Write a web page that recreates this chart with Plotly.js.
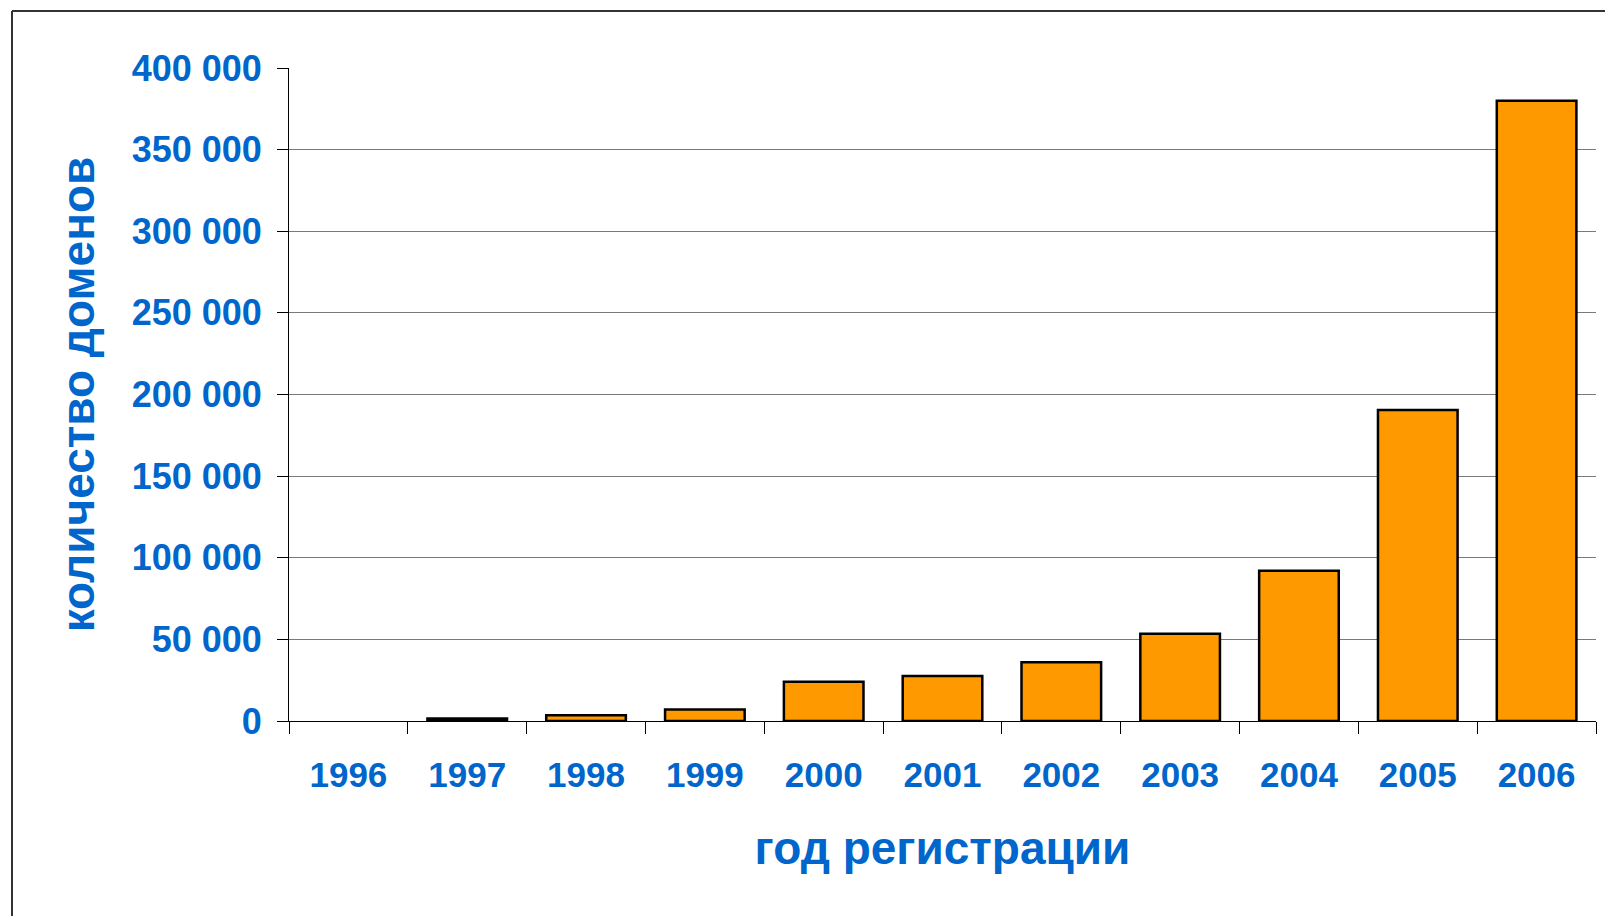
<!DOCTYPE html>
<html>
<head>
<meta charset="utf-8">
<script src="https://cdn.plot.ly/plotly-3.0.1.min.js"></script>
<style>
  html, body { margin: 0; padding: 0; background: #ffffff; }
  #chart { width: 1605px; height: 916px; }
</style>
</head>
<body>
<div id="chart"></div>
<script>
// Data
const years = ["1996", "1997", "1998", "1999", "2000", "2001", "2002", "2003", "2004", "2005", "2006"];
const domainCounts = [null, 1500, 3500, 7000, 24000, 27500, 36000, 53500, 92000, 190500, 380000];

const yTitle = "количество доменов";
const xTitle = "год регистрации";

const blue = "#0066CC";
const fontFamily = "Liberation Sans, Arial, sans-serif";

// Plot area in pixels
const L = 289, R = 1596, T = 68, B = 721;
const W = 1605, H = 916;
const px = x => (x - L) / (R - L);
const py = y => (B - y) / (B - T);

const trace = {
  type: "bar",
  x: years,
  y: domainCounts,
  marker: { color: "#FF9900", line: { color: "#000000", width: 2.5 } },
  hoverinfo: "x+y"
};

const layout = {
  width: W,
  height: H,
  margin: { l: L, r: W - R, t: T, b: H - B, pad: 0 },
  paper_bgcolor: "#ffffff",
  plot_bgcolor: "#ffffff",
  separators: ", ",
  showlegend: false,
  bargap: 0.33,
  font: { family: fontFamily, color: blue },
  xaxis: {
    type: "category",
    tickson: "boundaries",
    ticks: "outside",
    ticklen: 12,
    tickwidth: 1,
    tickcolor: "#000000",
    showline: true,
    linecolor: "#000000",
    linewidth: 1,
    showgrid: false,
    tickfont: { family: fontFamily, size: 35, color: blue, weight: "bold" },
    ticklabelstandoff: 23,
    title: { text: xTitle, font: { family: fontFamily, size: 46, color: blue, weight: "bold" }, standoff: 38 },
    automargin: false
  },
  yaxis: {
    range: [0, 400000],
    dtick: 50000,
    tickformat: ",d",
    ticks: "outside",
    ticklen: 11,
    tickwidth: 1,
    tickcolor: "#000000",
    showline: true,
    linecolor: "#000000",
    linewidth: 1,
    showgrid: true,
    gridcolor: "#7a7a7a",
    gridwidth: 1,
    zeroline: false,
    tickfont: { family: fontFamily, size: 36, color: blue, weight: "bold" },
    ticklabelstandoff: 8,
    title: { text: yTitle, font: { family: fontFamily, size: 46, color: blue, weight: "bold" }, standoff: 22 },
    automargin: false
  },
  shapes: [
    { type: "line", xref: "paper", yref: "paper", x0: px(12), x1: px(W + 5), y0: py(11), y1: py(11), line: { color: "#333333", width: 2 } },
    { type: "line", xref: "paper", yref: "paper", x0: px(12), x1: px(12), y0: py(11), y1: py(H + 5), line: { color: "#333333", width: 2 } }
  ]
};

Plotly.newPlot("chart", [trace], layout, { displayModeBar: false, staticPlot: true });
</script>
</body>
</html>
